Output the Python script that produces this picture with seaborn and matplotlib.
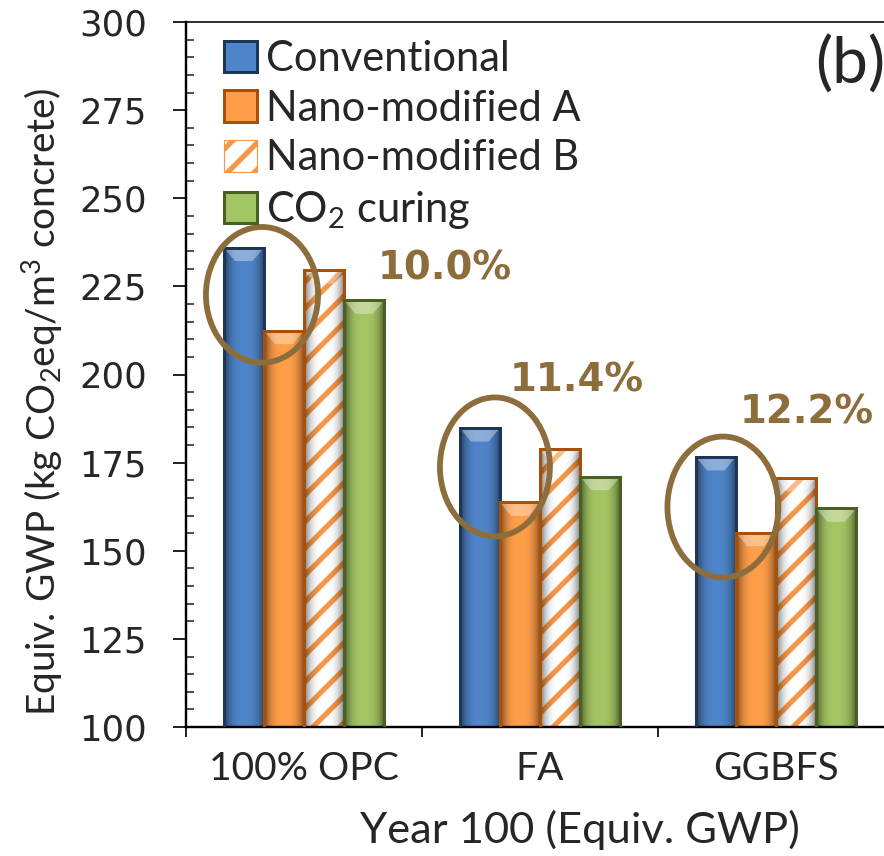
import numpy as np
import pandas as pd
import matplotlib
matplotlib.use("Agg")
import matplotlib.pyplot as plt
import seaborn as sns
from matplotlib.patches import Ellipse, Rectangle, Polygon, Patch
from matplotlib.ticker import MultipleLocator, FixedLocator, NullFormatter

# ---- data -------------------------------------------------------------
binders = ["100% OPC", "FA", "GGBFS"]
series = ["Conventional", "Nano-modified A", "Nano-modified B", "CO$_2$ curing"]
conventional = [236.0, 184.8, 176.6]
nano_a = [212.4, 163.7, 155.1]
nano_b = [229.6, 178.8, 170.6]
co2_curing = [221.0, 171.0, 162.0]
reductions = ["10.0%", "11.4%", "12.2%"]

# ---- style ------------------------------------------------------------
DPI = 80
W, H = 884, 856
P = 72 / DPI          # points per pixel


def px(v):
    """Size given in pixels -> points."""
    return v * P


sns.set_style("white")
plt.rcParams["font.family"] = ["Lato", "DejaVu Sans"]
plt.rcParams["mathtext.default"] = "regular"
plt.rcParams["hatch.linewidth"] = px(5.2)

face = ["#4f84c8", "#ff9e48", "#ffffff", "#a3c463"]
edge = ["#1d3557", "#a84f08", "#a84f08", "#4b5f22"]
stripe = "#f79646"
note_col = "#8c6d3b"

df = pd.DataFrame({
    "binder": binders * 4,
    "series": np.repeat(series, len(binders)),
    "value": conventional + nano_a + nano_b + co2_curing,
})

fig = plt.figure(figsize=(W / DPI, H / DPI), dpi=DPI)
ax = fig.add_axes([186 / W, 1 - 727 / H, 708 / W, 705 / H])

sns.barplot(data=df, x="binder", y="value", hue="series", order=binders,
            hue_order=series, palette=face, width=0.68, gap=0,
            saturation=1, legend=False, ax=ax, zorder=2)

YMIN, YMAX = 100, 300


def shade(bar, zorder):
    """Bevelled look: darker sides and a light top facet."""
    x0, w = bar.get_x(), bar.get_width()
    top = bar.get_y() + bar.get_height()
    grad = np.linspace(-1, 1, 64)
    alpha = np.clip(np.abs(grad) ** 3 * 0.55, 0, 0.55)
    img = np.zeros((1, 64, 4))
    img[..., 3] = alpha
    im = ax.imshow(img, extent=[x0, x0 + w, YMIN, top], aspect="auto",
                   zorder=zorder, interpolation="bilinear")
    im.set_clip_path(bar)
    d = 0.28 * w
    h = 3.8
    ax.add_patch(Polygon([(x0, top), (x0 + w, top), (x0 + w - d, top - h),
                          (x0 + d, top - h)], closed=True, facecolor="white",
                         alpha=0.35, edgecolor="none", zorder=zorder + 0.1))


for i, cont in enumerate(ax.containers):
    for bar in cont:
        bar.set_linewidth(0)
        bar.set_edgecolor(edge[i])
        if i == 2:
            bar.set_hatch("/")
            bar.set_edgecolor(stripe)
        shade(bar, 3)
        ax.add_patch(Rectangle((bar.get_x(), bar.get_y()), bar.get_width(),
                               bar.get_height(), facecolor="none",
                               edgecolor=edge[i], linewidth=px(3),
                               zorder=4))

# ellipses around conventional vs nano-modified A
ellipses = [(-0.178, 222.6, 0.475, 38.5), (0.809, 173.8, 0.466, 39.4),
            (1.775, 162.4, 0.47, 40.0)]
for (cx, cy, ew, eh) in ellipses:
    ax.add_patch(Ellipse((cx, cy), ew, eh, facecolor="none",
                         edgecolor=note_col, linewidth=px(5.8), zorder=6))

label_pos = [(0.314, 230.2), (0.873, 198.4), (1.847, 189.1)]
for txt, (lx, ly) in zip(reductions, label_pos):
    ax.text(lx, ly, txt, ha="left", va="center", color=note_col,
            fontsize=px(38.6), fontweight="bold", family="DejaVu Sans",
            zorder=7)

# ---- axes -------------------------------------------------------------
ax.set_xlim(-0.5, 2.5)
ax.set_ylim(YMIN, YMAX)
ax.yaxis.set_major_locator(MultipleLocator(25))
ax.yaxis.set_minor_locator(MultipleLocator(5))
ax.tick_params(axis="y", which="both", left=True)
ax.tick_params(axis="y", which="major", direction="out", length=px(13),
               width=px(2), pad=px(26), labelsize=px(35.5),
               labelfontfamily="DejaVu Sans")
ax.tick_params(axis="y", which="minor", direction="in", length=px(8),
               width=px(1.6))
ax.xaxis.set_major_locator(FixedLocator([-0.5, 0.5, 1.5]))
ax.xaxis.set_major_formatter(NullFormatter())
ax.set_xticks([0, 1, 2], binders, minor=True)
ax.tick_params(axis="x", which="both", bottom=True)
ax.tick_params(axis="x", which="major", direction="out", length=px(10),
               width=px(2))
ax.tick_params(axis="x", which="minor", length=0, pad=px(24),
               labelsize=px(39))
for s in ["left", "bottom"]:
    ax.spines[s].set_linewidth(px(2.4))
    ax.spines[s].set_color("black")
ax.spines["top"].set_linewidth(px(1.6))
ax.spines["top"].set_color("black")
ax.spines["right"].set_visible(False)

ax.set_xlabel("Year 100 (Equiv. GWP)", fontsize=px(43.5))
ax.xaxis.label.set_va("center")
ax.xaxis.set_label_coords(0.5565, -0.146)
ax.set_ylabel("Equiv. GWP (kg CO$_2$eq/m$^3$ concrete)", fontsize=px(38.8))
ax.yaxis.label.set_va("center")
ax.yaxis.set_label_coords(-0.203, 0.462)

# ---- legend -----------------------------------------------------------
handles = []
for i, name in enumerate(series):
    if i == 2:
        handles.append(Patch(facecolor="white", edgecolor=stripe, hatch="/",
                             label=name))
    else:
        handles.append(Patch(facecolor=face[i], edgecolor=edge[i],
                             linewidth=px(3), label=name))
leg = ax.legend(handles=handles, loc="upper left",
                bbox_to_anchor=(224 / W, 1 - 40 / H),
                bbox_transform=fig.transFigure, frameon=False,
                fontsize=px(41.7), handlelength=0.78, handleheight=0.78,
                handletextpad=0.22, labelspacing=0.28, borderpad=0,
                borderaxespad=0)
leg.set_zorder(8)

fig.text(815 / W, 1 - 65 / H, "(b)", fontsize=px(64), ha="left", va="center")

fig.savefig("out.png", dpi=DPI)
